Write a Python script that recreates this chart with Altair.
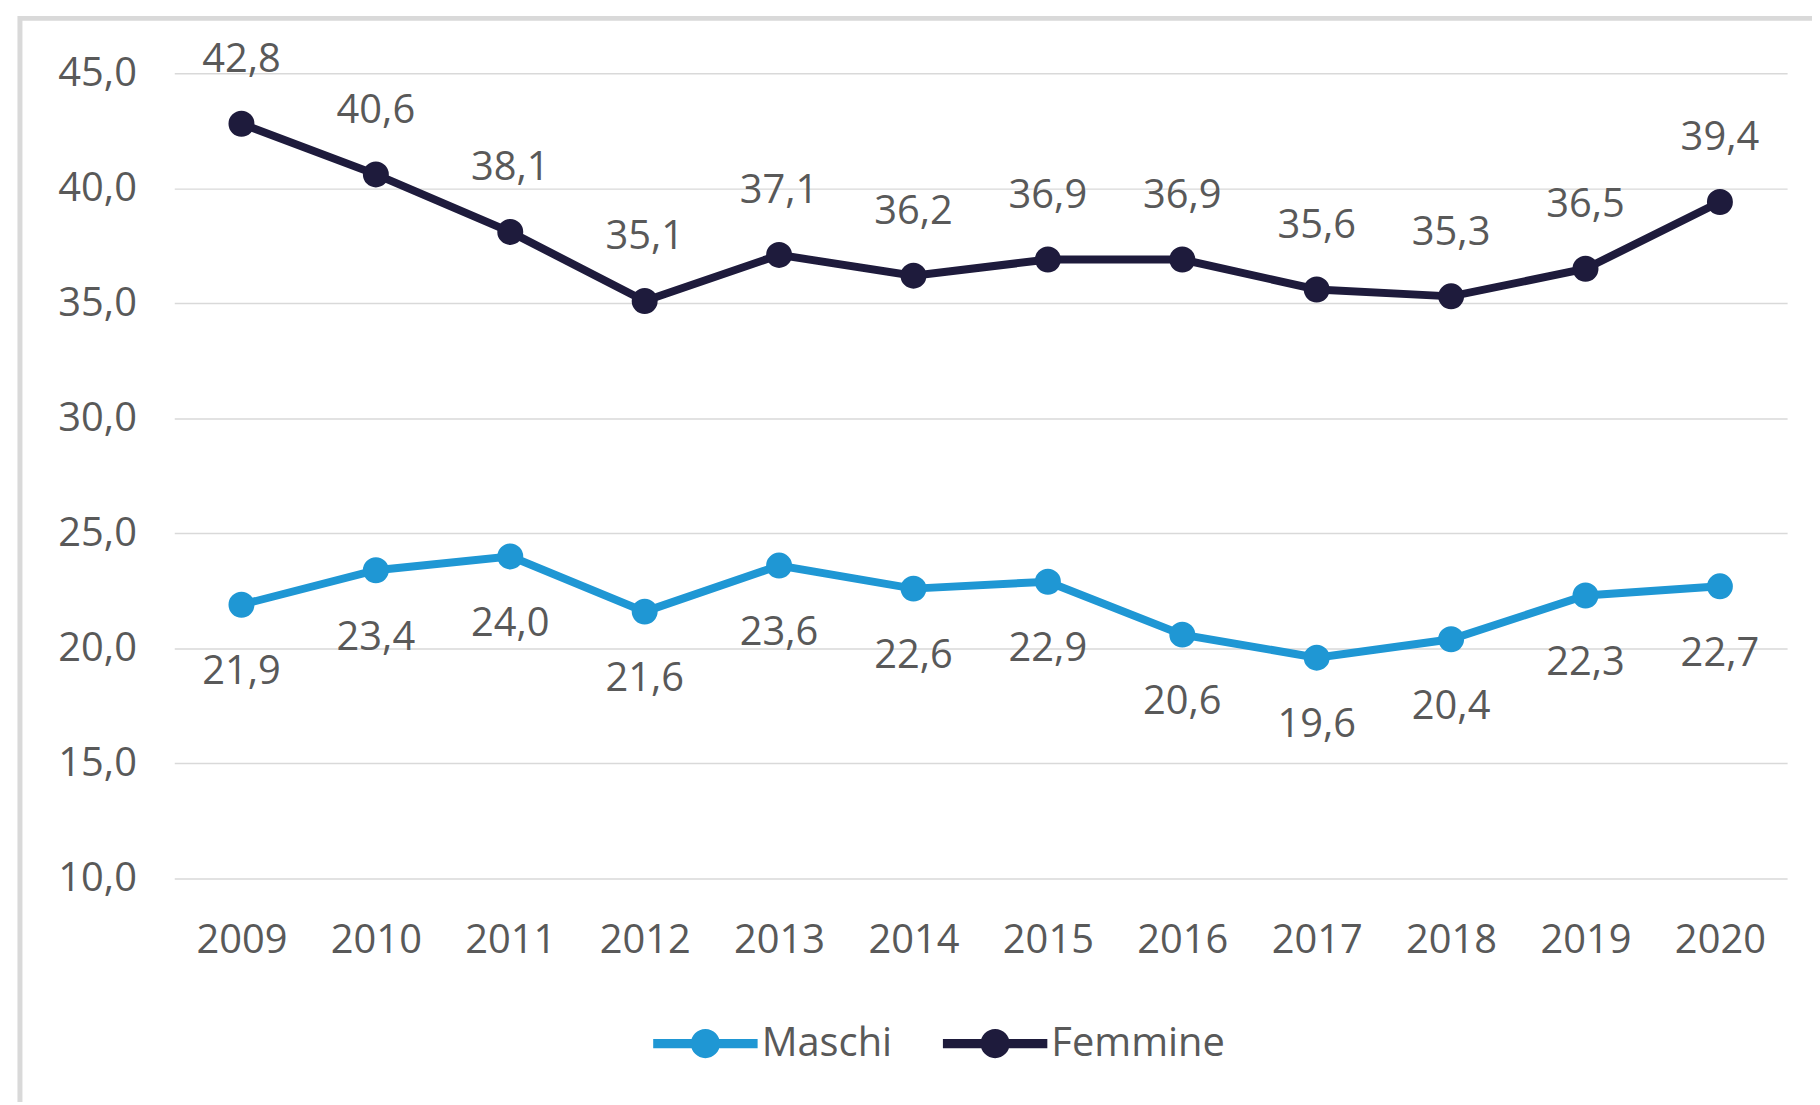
import altair as alt
import pandas as pd

years = ["2009", "2010", "2011", "2012", "2013", "2014", "2015", "2016", "2017", "2018", "2019", "2020"]
maschi = [21.9, 23.4, 24.0, 21.6, 23.6, 22.6, 22.9, 20.6, 19.6, 20.4, 22.3, 22.7]
femmine = [42.8, 40.6, 38.1, 35.1, 37.1, 36.2, 36.9, 36.9, 35.6, 35.3, 36.5, 39.4]
series = ["Maschi", "Femmine"]
colors = ["#1f97d4", "#1e1b3c"]

rows = []
for name, vals in zip(series, [maschi, femmine]):
    for y, v in zip(years, vals):
        rows.append({"anno": y, "valore": v, "serie": name,
                     "label": f"{v:.1f}".replace(".", ",")})
df = pd.DataFrame(rows)

FONT = "Open Sans"
TXT = "#595959"
FS = 40

legend_path = ("M-1,-0.09H1V0.09H-1Z "
               "M0.28,0A0.28,0.28 0 1,1 -0.28,0A0.28,0.28 0 1,1 0.28,0Z")

x_enc = alt.X("anno:N", sort=years, title=None,
              scale=alt.Scale(paddingInner=0, paddingOuter=0, align=0.5),
              axis=alt.Axis(labelAngle=0, domain=False, ticks=False, grid=False,
                            labelFont=FONT, labelFontSize=FS, labelColor=TXT,
                            labelPadding=42))
y_enc = alt.Y("valore:Q", title=None,
              scale=alt.Scale(domain=[10, 45], nice=False, zero=False),
              axis=alt.Axis(values=[10, 15, 20, 25, 30, 35, 40, 45], domain=False,
                            ticks=False, grid=True, gridColor="#d9d9d9", gridWidth=1.5,
                            labelFont=FONT, labelFontSize=FS, labelColor=TXT,
                            labelPadding=38,
                            labelExpr="replace(format(datum.value, '.1f'), '.', ',')"))
color_scale = alt.Scale(domain=series, range=colors)

base = alt.Chart(df)

lines = base.mark_line(strokeWidth=8).encode(
    x=x_enc, y=y_enc,
    stroke=alt.Stroke("serie:N", scale=color_scale, legend=None))

points = base.mark_point(filled=True, size=680, opacity=1).encode(
    x=x_enc, y=y_enc,
    color=alt.Color("serie:N", scale=color_scale, title=None,
                    legend=alt.Legend(orient="none", direction="horizontal",
                                      legendX=481, legendY=922,
                                      symbolType=legend_path, symbolSize=11000,
                                      symbolStrokeWidth=0, symbolOpacity=1,
                                      labelFont=FONT, labelFontSize=FS,
                                      labelColor=TXT, labelOffset=4,
                                      columnPadding=50, labelLimit=400)))

text_f = base.transform_filter("datum.serie == 'Femmine'").mark_text(
    dy=-64, font=FONT, fontSize=FS, color=TXT, baseline="middle").encode(
    x=x_enc, y=y_enc, text="label:N")
text_m = base.transform_filter("datum.serie == 'Maschi'").mark_text(
    dy=68, font=FONT, fontSize=FS, color=TXT, baseline="middle").encode(
    x=x_enc, y=y_enc, text="label:N")

frame = alt.Chart(alt.Data(values=[{}])).mark_rect(
    fill=None, stroke="#d9d9d9", strokeWidth=5).encode(
    x=alt.value(-155), x2=alt.value(1700), y=alt.value(-55), y2=alt.value(1200))

chart = alt.layer(frame, lines, points, text_f, text_m).resolve_scale(
    color="independent", stroke="independent").properties(
    width=1620, height=809, background="white",
    autosize=alt.AutoSizeParams(type="none"),
    padding={"left": 167, "top": 63, "right": 25, "bottom": 222},
).configure_view(strokeWidth=0, stroke="transparent")

chart.save("out.html", embed_options={"renderer": "svg", "actions": False})
